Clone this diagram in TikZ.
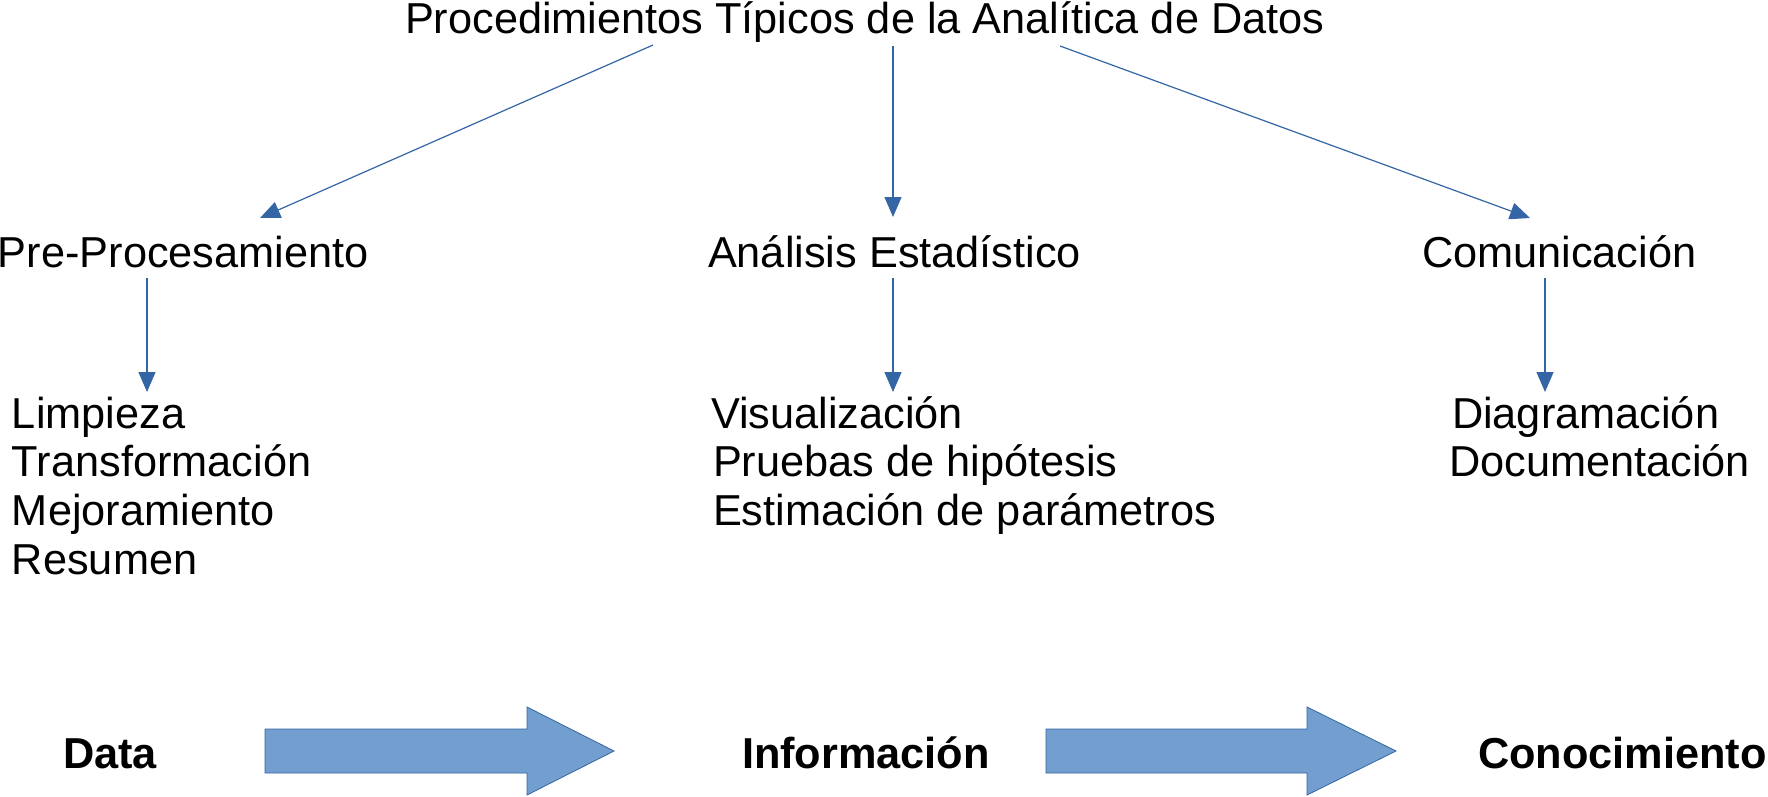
\documentclass[tikz,border=0pt]{standalone}
\usepackage{fontspec}
\setmainfont{Liberation Sans}
\usetikzlibrary{arrows.meta,calc}
\definecolor{lineblue}{HTML}{3465A4}
\definecolor{fillblue}{HTML}{729FCF}
\begin{document}
\begin{tikzpicture}[x=1pt,y=-1pt,
  txt/.style={anchor=base west,inner sep=0pt,outer sep=0pt,font=\fontsize{43.3}{48.7}\selectfont},
  btxt/.style={txt,font=\fontsize{43.3}{48.7}\selectfont\bfseries},
  conn/.style={draw=lineblue,line width=1.2pt,-{Triangle[length=20pt,width=17pt]}},
  bigarrow/.style={draw=lineblue,line width=0.8pt,fill=fillblue}]
\useasboundingbox (0,0) rectangle (1768,796);
% texts
\node[txt] (title) at (405,33) {Procedimientos Típicos de la Analítica de Datos};
\node[txt] (pre) at (-2,267) {Pre-Procesamiento};
\node[txt] (ana) at (708,267) {Análisis Estadístico};
\node[txt] (com) at (1422,267) {Comunicación};
\node[txt] (l1) at (12,428) {\begin{tabular}[t]{@{}l@{}}Limpieza\\Transformación\\Mejoramiento\\Resumen\end{tabular}};
\node[txt] (l2) at (713,428) {\begin{tabular}[t]{@{}l@{}}\hspace{-2pt}Visualización\\Pruebas de hipótesis\\Estimación de parámetros\end{tabular}};
\node[txt] (l3) at (1449,428) {\begin{tabular}[t]{@{}l@{}}\hspace{3pt}Diagramación\\Documentación\end{tabular}};
\node[btxt] (data) at (63,768) {Data};
\node[btxt] (info) at (742,768) {Información};
\node[btxt] (cono) at (1478,768) {Conocimiento};
% connectors
\draw[conn] ($(title.base west)+(248,12)$) -- ($(pre.base west)+(262,-49)$);
\draw[conn] ($(title.base west)+(488,13)$) -- ($(ana.base west)+(185,-50)$);
\draw[conn] ($(title.base west)+(655,13)$) -- ($(com.base west)+(108,-49)$);
\draw[conn] ($(pre.base west)+(149,11)$) -- ($(l1.base west)+(135,-36)$);
\draw[conn] ($(ana.base west)+(185,11)$) -- ($(l2.base west)+(180,-36)$);
\draw[conn] ($(com.base west)+(123,11)$) -- ($(l3.base west)+(96,-36)$);
% big arrows
\draw[bigarrow] (265,729) -- (527,729) -- (527,707) -- (614,751) -- (527,795) -- (527,773) -- (265,773) -- cycle;
\draw[bigarrow] (1046,729) -- (1307,729) -- (1307,707) -- (1396,751) -- (1307,795) -- (1307,773) -- (1046,773) -- cycle;
\end{tikzpicture}
\end{document}
